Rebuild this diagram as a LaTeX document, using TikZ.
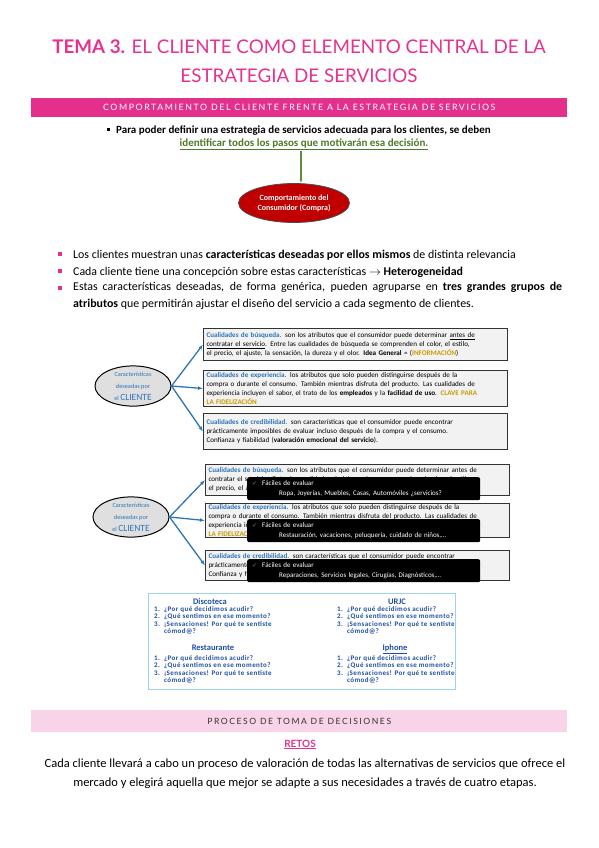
\documentclass[tikz,border=0pt]{standalone}
\usepackage{fontspec}
\setmainfont{Carlito}
\newfontfamily\titlefont{Lato}
\newfontfamily\barfont[LetterSpace=18]{Lato}
\newfontfamily\tabfont[LetterSpace=6]{Carlito}
\newfontfamily\symfont{DejaVu Sans}
\usetikzlibrary{positioning,arrows.meta,shapes.geometric}
\definecolor{tpink}{HTML}{E4338F}
\definecolor{barpink}{HTML}{E3308D}
\definecolor{lpink}{HTML}{F9D3E7}
\definecolor{redell}{HTML}{C00000}
\definecolor{agreen}{HTML}{5E8F3C}
\definecolor{tgreen}{HTML}{4F7A2A}
\definecolor{cblue}{HTML}{2E75B6}
\definecolor{gold}{HTML}{C99A00}
\definecolor{tblue}{HTML}{1F4FA3}
\definecolor{lblue}{HTML}{9BD2F2}
\definecolor{chk}{HTML}{3FA34D}
\tikzset{
  bodytxt/.style={anchor=base west, inner sep=0pt, font=\fontsize{11.9}{13}\selectfont},
  pinkbul/.style={fill=barpink, inner sep=0pt, minimum size=3.2pt},
  blkbul/.style={fill=black, inner sep=0pt, minimum size=3pt},
  cualbox/.style={draw=black!80, fill=gray!10, line width=1pt, anchor=north west,
    inner xsep=3pt, inner ysep=1pt, text width=298pt, align=left,
    font=\fontsize{7.1}{9}\selectfont},
  blackbox/.style={fill=black, rounded corners=2pt, anchor=north west, text=white,
    minimum width=233pt, minimum height=23pt, inner xsep=5pt, text width=223pt,
    align=left, font=\fontsize{7}{10}\selectfont},
  clell/.style={ellipse, draw=black, fill=gray!25, line width=1pt, minimum width=76pt,
    minimum height=33pt, inner sep=0pt, align=center, text=cblue},
  barrow/.style={draw=cblue, line width=1.3pt, -{Latex[length=5pt]}},
  tabhead/.style={inner sep=0pt, anchor=base, text=tblue, font=\fontsize{8.5}{10}\bfseries},
  tablist/.style={inner sep=0pt, anchor=north west, text=tblue, font=\tabfont\fontsize{7}{7.4}\bfseries}
}
\newcommand{\cq}[1]{\textcolor{cblue}{\textbf{#1}}}
\newcommand{\ckline}{{\symfont\color{chk}\fontsize{6}{7}\selectfont ✓}\hspace{5pt}Fáciles de evaluar}
\newcommand{\clname}{\fontsize{6.3}{7.5}\selectfont Características\\\fontsize{6.3}{7.5}\selectfont deseadas por\\
   \fontsize{6.3}{9.5}\selectfont el \fontsize{9.5}{9.5}\selectfont CLIENTE}
\newcommand{\tablines}{\begin{tabular}{@{}l@{\hspace{4pt}}l@{}}
  1. & ¿Por qué decidimos acudir?\\
  2. & ¿Qué sentimos en ese momento?\\
  3. & ¡Sensaciones! Por qué te sentiste\\
     & cómod@?\end{tabular}}
\begin{document}
\begin{tikzpicture}[x=1pt,y=-1pt]
\useasboundingbox[fill=white] (0,0) rectangle (599,848);
% title
\node[text=tpink, font=\titlefont\fontsize{18.8}{22}\selectfont, anchor=base] (ttl1) at (299,54)
  {\textbf{TEMA 3.} EL CLIENTE COMO ELEMENTO CENTRAL DE LA};
\node[text=tpink, font=\titlefont\fontsize{18.8}{22}\selectfont, anchor=base] (ttl2) at (299,83)
  {ESTRATEGIA DE SERVICIOS};
\node[fill=barpink, minimum width=536pt, minimum height=19pt, anchor=north west, inner sep=0pt,
  text=white, font=\barfont\fontsize{8.8}{10}\selectfont] (bar1) at (31,98)
  {COMPORTAMIENTO DEL CLIENTE FRENTE A LA ESTRATEGIA DE SERVICIOS};
% first bullet and red ellipse
\node[blkbul] (b0) at (108,130) {};
\node[bodytxt, font=\fontsize{11}{12}\bfseries] (t0) at (116,133.5)
  {Para poder definir una estrategia de servicios adecuada para los clientes, se deben};
\node[inner sep=0pt, anchor=base, text=tgreen, font=\fontsize{11}{12}\bfseries] (t0b) at (304,146.5)
  {\underline{identificar todos los pasos que motivarán esa decisión.}};
\node[ellipse, draw=black!70, fill=redell, line width=0.8pt, minimum width=111pt, minimum height=39pt,
  inner sep=0pt, align=center, text=white, font=\fontsize{8}{10}\bfseries] (comp) at (294,203)
  {Comportamiento del\\Consumidor (Compra)};
\coordinate (gs) at (301,151);
\draw[agreen, line width=1.2pt, -{Latex[length=4pt]}] (gs) -- (gs |- comp.north);
% bullets
\node[pinkbul] (p1) at (60,254) {};
\node[bodytxt] (l1) at (73,258)
  {Los clientes muestran unas \textbf{características deseadas por ellos mismos} de distinta relevancia};
\node[pinkbul] (p2) at (60,271) {};
\node[bodytxt] (l2) at (73,275)
  {Cada cliente tiene una concepción sobre estas características $\rightarrow$ \textbf{Heterogeneidad}};
\node[pinkbul] (p3) at (60,288) {};
\node[inner sep=0pt, anchor=north west, text width=489pt, align=justify,
  font=\fontsize{11.9}{16.5}\selectfont] (l3) at (73,282)
  {Estas características deseadas, de forma genérica, pueden agruparse en \textbf{tres grandes grupos de}\linebreak
  \textbf{atributos} que permitirán ajustar el diseño del servicio a cada segmento de clientes.};
% first group of qualities
\node[clell] (cl1) at (133,386) {\clname};
\node[cualbox, minimum height=32pt] (cb1) at (203,328)
  {\cq{Cualidades de búsqueda.} son los atributos que el consumidor puede determinar \underline{antes de}\\
   \underline{contratar el servicio}. Entre las cualidades de búsqueda se comprenden el color, el estilo,\\
   el precio, el ajuste, la sensación, la dureza y el olor. \textbf{Idea General} = (\textcolor{gold}{\textbf{INFORMACIÓN}})};
\node[cualbox, minimum height=36pt] (ce1) at (203,370)
  {\cq{Cualidades de experiencia.} los atributos que solo pueden distinguirse después de la\\
   compra o durante el consumo. También mientras disfruta del producto. Las cualidades de\\
   experiencia incluyen el sabor, el trato de los \textbf{empleados} y la \textbf{facilidad de uso}. \textcolor{gold}{\textbf{CLAVE PARA}}\\
   \textcolor{gold}{\textbf{LA FIDELIZACIÓN}}};
\node[cualbox, minimum height=36pt] (cc1) at (203,413)
  {\cq{Cualidades de credibilidad.} son características que el consumidor puede encontrar\\
   prácticamente imposibles de evaluar incluso después de la compra y el consumo.\\
   Confianza y fiabilidad (\textbf{valoración emocional del servicio}).};
\draw[barrow] (cl1.east) -- (cb1.west);
\draw[barrow] (cl1.east) -- (ce1.west);
\draw[barrow] (cl1.east) -- (cc1.west);
% second group of qualities
\node[clell] (cl2) at (131,517) {\clname};
\node[cualbox, minimum height=31pt] (cb2) at (205,464)
  {\cq{Cualidades de búsqueda.} son los atributos que el consumidor puede determinar antes de\\
   contratar el servicio. Entre las cualidades de búsqueda se comprenden el color, el estilo,\\
   el precio, el ajuste, la sensación, la dureza y el olor.};
\node[cualbox, minimum height=34pt] (ce2) at (205,503)
  {\cq{Cualidades de experiencia.} los atributos que solo pueden distinguirse después de la\\
   compra o durante el consumo. También mientras disfruta del producto. Las cualidades de\\
   experiencia incluyen el sabor, el trato de los empleados y la facilidad de uso. \textcolor{gold}{\textbf{CLAVE PARA}}\\
   \textcolor{gold}{\textbf{LA FIDELIZACIÓN}}};
\node[cualbox, minimum height=30pt] (cc2) at (205,550)
  {\cq{Cualidades de credibilidad.} son características que el consumidor puede encontrar\\
   prácticamente imposibles de evaluar incluso después de la compra y el consumo.\\
   Confianza y fiabilidad (valoración emocional del servicio).};
\draw[barrow] (cl2.east) -- (cb2.west);
\draw[barrow] (cl2.east) -- (ce2.west);
\draw[barrow] (cl2.east) -- (cc2.west);
\node[blackbox] (bk1) at (247,477)
  {\ckline\\\hspace*{27pt}Ropa, Joyerías, Muebles, Casas, Automóviles ¿servicios?};
\node[blackbox] (bk2) at (247,519)
  {\ckline\\\hspace*{27pt}Restauración, vacaciones, peluquería, cuidado de niños,…};
\node[blackbox] (bk3) at (247,559)
  {\ckline\\\hspace*{27pt}Reparaciones, Servicios legales, Cirugías, Diagnósticos,…};
% examples table
\node[draw=lblue, line width=1.3pt, minimum width=307pt, minimum height=96pt, anchor=north west] (tab) at (148,593) {};
\node[tabhead] (hd) at (210,604) {Discoteca};
\node[tabhead] (hu) at (397,604) {URJC};
\node[tabhead] (hr) at (213,650.5) {Restaurante};
\node[tabhead] (hi) at (395,650.5) {\underline{Iphone}};
\node[tablist] (ld) at (154,606) {\tablines};
\node[tablist] (lu) at (337,606) {\tablines};
\node[tablist] (lr) at (154,655) {\tablines};
\node[tablist] (li) at (337,655) {\tablines};
% decision process
\node[fill=lpink, minimum width=536pt, minimum height=22pt, anchor=north west, inner sep=0pt,
  text=black!80, font=\barfont\fontsize{8.6}{10}\selectfont] (bar2) at (31,710)
  {PROCESO DE TOMA DE DECISIONES};
\node[inner sep=0pt, anchor=base, text=tpink, font=\titlefont\fontsize{10}{12}\bfseries] (retos) at (300,747)
  {\underline{RETOS}};
\node[inner sep=0pt, anchor=north, align=center, font=\fontsize{12.5}{19}\selectfont] (cada) at (305,759)
  {Cada cliente llevará a cabo un proceso de valoración de todas las alternativas de servicios que ofrece el\\
   mercado y elegirá aquella que mejor se adapte a sus necesidades a través de cuatro etapas.};
\end{tikzpicture}
\end{document}
